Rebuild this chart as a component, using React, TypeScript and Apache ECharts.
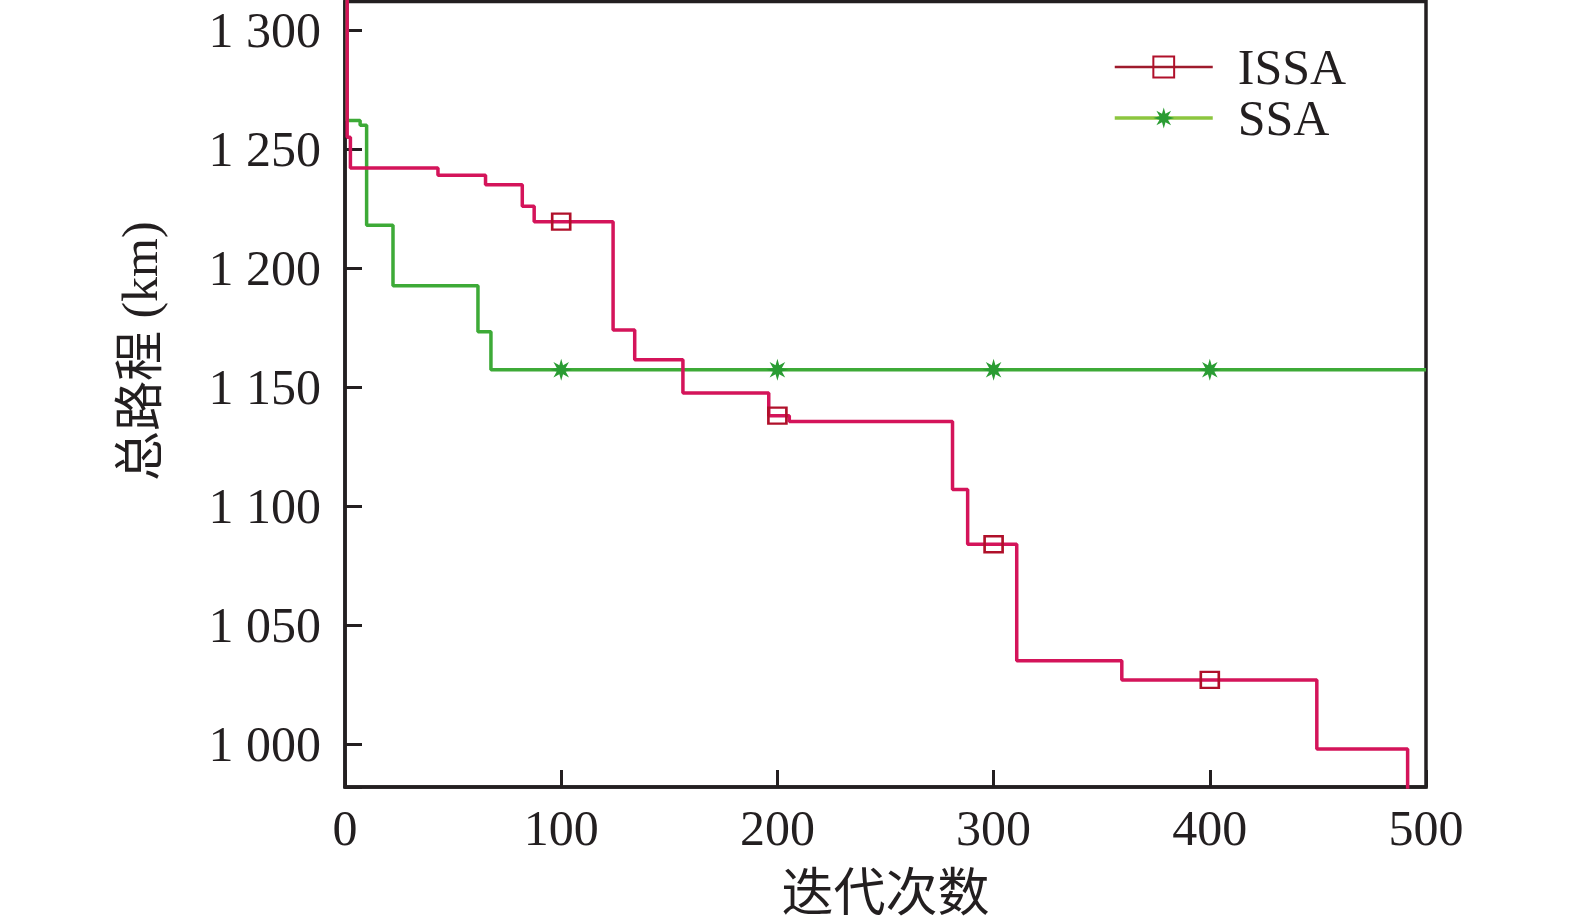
import React, { useEffect, useRef } from "react";
import * as echarts from "echarts";

// ---- data ----
const markerIters = [100, 200, 300, 400];

const issaSteps: [number, number][] = [
  [0, 1330], [1, 1255], [2.5, 1242], [43, 1239], [65, 1235], [82, 1226],
  [87.5, 1219.5], [100, 1219.5], [124, 1174], [134, 1161.5], [156.3, 1147.5],
  [196, 1138], [200, 1138], [205.5, 1135.5], [281, 1107], [288, 1084],
  [300, 1084], [310.7, 1035], [359.3, 1027], [400, 1027], [449.5, 998],
  [491.5, 970], [500, 970],
];

const ssaSteps: [number, number][] = [
  [0, 1330], [1, 1262], [7, 1260], [10, 1218], [22.2, 1192.6], [61.5, 1173.3],
  [67.5, 1157.3], [100, 1157.3], [200, 1157.3], [300, 1157.3], [400, 1157.3],
  [500, 1157.3],
];

const xTickValues = [0, 100, 200, 300, 400, 500];
const yTickValues = [1000, 1050, 1100, 1150, 1200, 1250, 1300];

const FONT = "'Liberation Serif', 'Noto Sans CJK SC', serif";

function asteriskPath(): string {
  const pts: string[] = [];
  for (let k = 0; k < 16; k++) {
    const a = (k * Math.PI) / 8 - Math.PI / 2;
    const r = k % 2 === 0 ? 10 : 4.4;
    pts.push(`${(10 + r * Math.cos(a)).toFixed(2)},${(10 + r * Math.sin(a)).toFixed(2)}`);
  }
  return "path://M" + pts.join("L") + "Z";
}

function toSeriesData(steps: [number, number][]) {
  return steps.map(([x, y]) => {
    if (markerIters.includes(x)) return { value: [x, y] };
    return { value: [x, y], symbol: "none" };
  });
}

function fmtY(v: number): string {
  if (!yTickValues.includes(Math.round(v)) || Math.abs(v - Math.round(v)) > 1e-6) return "";
  const th = Math.floor(v / 1000);
  const rest = String(Math.round(v) % 1000).padStart(3, "0");
  return `${th} ${rest}`;
}

export default function App() {
  const ref = useRef<HTMLDivElement>(null);

  useEffect(() => {
    document.body.style.margin = "0";
    if (!ref.current) return;
    const chart = echarts.init(ref.current, undefined, { renderer: "svg" });
    const axisColor = "#231f20";
    chart.setOption({
      animation: false,
      backgroundColor: "#ffffff",
      grid: {
        left: 345,
        right: 149,
        top: 1.5,
        bottom: 136,
        show: true,
        borderColor: axisColor,
        borderWidth: 3.5,
        backgroundColor: "transparent",
      },
      legend: {
        orient: "vertical",
        left: 1108,
        top: 37,
        itemWidth: 98,
        itemHeight: 26,
        itemGap: 1,
        textStyle: {
          fontFamily: FONT,
          fontSize: 50,
          color: "#231f20",
          lineHeight: 50,
          padding: [0, 0, 0, 20],
        },
        data: [
          { name: "ISSA", lineStyle: { color: "#9e1b2c", width: 2.5 } },
          { name: "SSA", lineStyle: { color: "#8cc63f", width: 3.5 } },
        ],
      },
      xAxis: {
        type: "value",
        min: 0,
        max: 500,
        interval: 100,
        name: "迭代次数",
        nameLocation: "middle",
        nameGap: 80,
        nameTextStyle: { fontFamily: FONT, fontSize: 52, color: "#231f20" },
        axisLine: { show: true, lineStyle: { color: axisColor, width: 3.5 } },
        axisTick: { show: true, inside: true, length: 17, lineStyle: { color: axisColor, width: 3 } },
        axisLabel: {
          fontFamily: FONT,
          fontSize: 50,
          color: "#231f20",
          margin: 16,
          formatter: (v: number) => (xTickValues.includes(v) ? String(v) : ""),
        },
        splitLine: { show: false },
      },
      yAxis: {
        type: "value",
        min: 982,
        max: 1312,
        splitNumber: 6,
        name: "总路程 (km)",
        nameLocation: "middle",
        nameGap: 180,
        nameTextStyle: {
          fontFamily: FONT,
          fontSize: 50,
          color: "#231f20",
          padding: [0, 0, 0, 86],
        },
        axisLine: { show: true, lineStyle: { color: axisColor, width: 3.5 } },
        axisTick: { show: true, inside: true, length: 17, lineStyle: { color: axisColor, width: 3 } },
        axisLabel: {
          fontFamily: FONT,
          fontSize: 50,
          color: "#231f20",
          margin: 24,
          formatter: fmtY,
        },
        splitLine: { show: false },
      },
      series: [
        {
          name: "ISSA",
          type: "line",
          step: "end",
          data: toSeriesData(issaSteps),
          symbol: "rect",
          symbolSize: [18, 16],
          showSymbol: true,
          lineStyle: { color: "#d4145a", width: 3.5 },
          itemStyle: { color: "rgba(255,255,255,0)", borderColor: "#b0102a", borderWidth: 2.5 },
          emphasis: { disabled: true },
          z: 3,
        },
        {
          name: "SSA",
          type: "line",
          step: "end",
          data: toSeriesData(ssaSteps),
          symbol: asteriskPath(),
          symbolSize: 22,
          showSymbol: true,
          lineStyle: { color: "#3daa37", width: 3.5 },
          itemStyle: { color: "#2a9c33", borderWidth: 0 },
          emphasis: { disabled: true },
          z: 2,
        },
      ],
    });
    return () => chart.dispose();
  }, []);

  return <div ref={ref} style={{ width: 1575, height: 924 }} />;
}
